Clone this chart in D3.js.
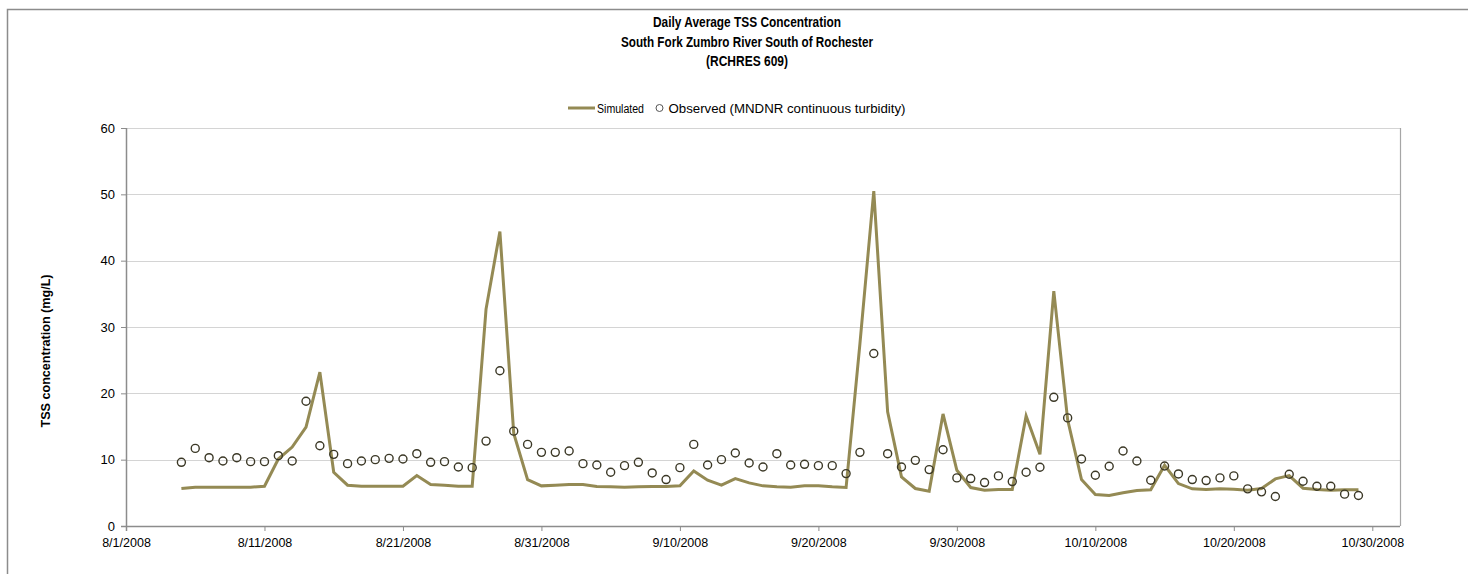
<!DOCTYPE html>
<html><head><meta charset="utf-8">
<script src="https://cdn.jsdelivr.net/npm/d3@7"></script>
<style>
html,body{margin:0;padding:0;background:#fff;}
svg{display:block;}
text{font-family:"Liberation Sans Narrow","Liberation Sans",Arial,sans-serif;fill:#000;}
</style></head>
<body>
<svg id="chart" width="1468" height="574"></svg>
<script>
const titleLines = ["Daily Average TSS Concentration","South Fork Zumbro River South of Rochester","(RCHRES 609)"];
const yLabel = "TSS concentration (mg/L)";
const seriesNames = ["Simulated","Observed (MNDNR continuous turbidity)"];
const firstDay = "2008-08-05", lastDay = "2008-10-29";
const xTickDates = ["2008-08-01","2008-08-11","2008-08-21","2008-08-31","2008-09-10","2008-09-20","2008-09-30","2008-10-10","2008-10-20","2008-10-30"];
const yTicks = [0,10,20,30,40,50,60];

const simulated = [
 5.65,5.85,5.85,5.85,5.85,5.85,6.0,10.1,11.9,14.9,
 23.2,8.1,6.15,6.0,6.0,6.0,6.0,7.6,6.25,6.15,
 6.0,6.0,32.7,44.4,13.95,7.0,6.05,6.15,6.25,6.25,
 5.95,5.9,5.85,5.9,5.95,5.95,6.05,8.3,6.9,6.15,
 7.15,6.5,6.05,5.9,5.85,6.05,6.05,5.9,5.8,27.5,
 50.5,17.2,7.4,5.65,5.25,16.9,8.4,5.8,5.4,5.5,
 5.5,16.6,10.8,35.4,16.0,7.0,4.75,4.6,5.0,5.35,
 5.45,9.15,6.4,5.6,5.5,5.6,5.55,5.4,5.65,7.1,
 7.6,5.7,5.5,5.4,5.45,5.45];
const observed = [
 9.6,11.7,10.3,9.8,10.3,9.7,9.7,10.6,9.8,18.8,
 12.1,10.8,9.4,9.8,10.0,10.2,10.1,10.9,9.6,9.7,
 8.9,8.8,12.8,23.4,14.3,12.3,11.1,11.1,11.3,9.4,
 9.2,8.1,9.1,9.6,8.0,7.0,8.8,12.3,9.2,10.0,
 11.0,9.5,8.9,10.9,9.2,9.3,9.1,9.1,7.9,11.1,
 26.0,10.9,8.9,9.9,8.5,11.5,7.25,7.15,6.55,7.55,
 6.7,8.1,8.85,19.4,16.3,10.1,7.65,9.0,11.3,9.8,
 6.9,9.05,7.85,7.0,6.85,7.25,7.55,5.6,5.15,4.45,
 7.8,6.75,6.0,6.0,4.8,4.6];

const parse = d3.timeParse("%Y-%m-%d");
const days = d3.timeDay.range(parse(firstDay), d3.timeDay.offset(parse(lastDay),1));
const simData = days.map((d,i)=>({date:d, v:simulated[i]}));
const obsData = days.map((d,i)=>({date:d, v:observed[i]}));

const svg = d3.select("#chart");
const lineColor = "#948A54";

// outer frame (document chart border)
svg.append("path").attr("d","M7.5,574 L7.5,9.5 L1468,9.5")
  .attr("fill","none").attr("stroke","#8c8c8c").attr("stroke-width",1.5);

const x = d3.scaleTime().domain([parse("2008-08-01"), parse("2008-11-01")]).range([126,1400]);
const y = d3.scaleLinear().domain([0,60]).range([526,128]);

// gridlines
svg.append("g").selectAll("line").data(yTicks.filter(t=>t>0)).join("line")
  .attr("x1",126).attr("x2",1400)
  .attr("y1",d=>Math.round(y(d))+0.5).attr("y2",d=>Math.round(y(d))+0.5)
  .attr("stroke","#d4d4d4").attr("stroke-width",1.2);
// right border of plot
svg.append("line").attr("x1",1400.5).attr("x2",1400.5).attr("y1",128).attr("y2",526)
  .attr("stroke","#a6a6a6").attr("stroke-width",1.2);

// x axis
const xAxis = d3.axisBottom(x).tickValues(xTickDates.map(parse))
  .tickFormat(d3.timeFormat("%-m/%-d/%Y")).tickSize(5).tickSizeOuter(0);
const gx = svg.append("g").attr("transform","translate(0,526)").call(xAxis);
gx.select(".domain").attr("stroke","#8c8c8c").attr("stroke-width",1.5).attr("d","M121,0.5H1400");
gx.selectAll(".tick line").attr("stroke","#8c8c8c").attr("stroke-width",1);
gx.selectAll(".tick text").attr("font-size",12.5).attr("dy","0.71em").attr("y",12)
  .style("font-family",'"Liberation Sans Narrow","Liberation Sans",Arial,sans-serif').attr("fill","#000");

// y axis
const yAxis = d3.axisLeft(y).tickValues(yTicks).tickSize(5).tickSizeOuter(0).tickPadding(7);
const gy = svg.append("g").attr("transform","translate(126,0)").call(yAxis);
gy.select(".domain").attr("stroke","#8c8c8c").attr("stroke-width",1.5).attr("d","M0.5,128V531");
gy.selectAll(".tick line").attr("stroke","#8c8c8c");
gy.selectAll(".tick text").attr("font-size",13).attr("x",-11)
  .style("font-family",'"Liberation Sans Narrow","Liberation Sans",Arial,sans-serif').attr("fill","#000");

// y label
svg.append("text").attr("transform","translate(50,351) rotate(-90)")
  .attr("text-anchor","middle").attr("font-size",12.5).attr("font-weight","bold")
  .attr("textLength",153).attr("lengthAdjust","spacingAndGlyphs").text(yLabel);

// simulated line
svg.append("path").datum(simData)
  .attr("d", d3.line().x(d=>x(d.date)).y(d=>y(d.v)))
  .attr("fill","none").attr("stroke",lineColor).attr("stroke-width",3).attr("stroke-linejoin","miter");

// observed points
svg.append("g").selectAll("circle").data(obsData).join("circle")
  .attr("cx",d=>x(d.date)).attr("cy",d=>y(d.v)).attr("r",4)
  .attr("fill","none").attr("stroke","#3b3826").attr("stroke-width",1.4);

// title
const tW = [188,252,82], tY = [27,47,66];
titleLines.forEach((t,i)=>{
  svg.append("text").attr("x",747).attr("y",tY[i]).attr("text-anchor","middle")
    .attr("font-size",14).attr("font-weight","bold")
    .attr("textLength",tW[i]).attr("lengthAdjust","spacingAndGlyphs").text(t);
});

// legend
svg.append("line").attr("x1",568).attr("x2",595).attr("y1",108).attr("y2",108)
  .attr("stroke",lineColor).attr("stroke-width",3);
svg.append("text").attr("x",597).attr("y",112.5).attr("font-size",12.5)
  .attr("textLength",47).attr("lengthAdjust","spacingAndGlyphs").text(seriesNames[0]);
svg.append("circle").attr("cx",659.5).attr("cy",108).attr("r",3.5)
  .attr("fill","none").attr("stroke","#555").attr("stroke-width",1);
svg.append("text").attr("x",668.5).attr("y",112.5).attr("font-size",12.5)
  .attr("textLength",237).attr("lengthAdjust","spacingAndGlyphs").text(seriesNames[1]);
</script>
</body></html>
